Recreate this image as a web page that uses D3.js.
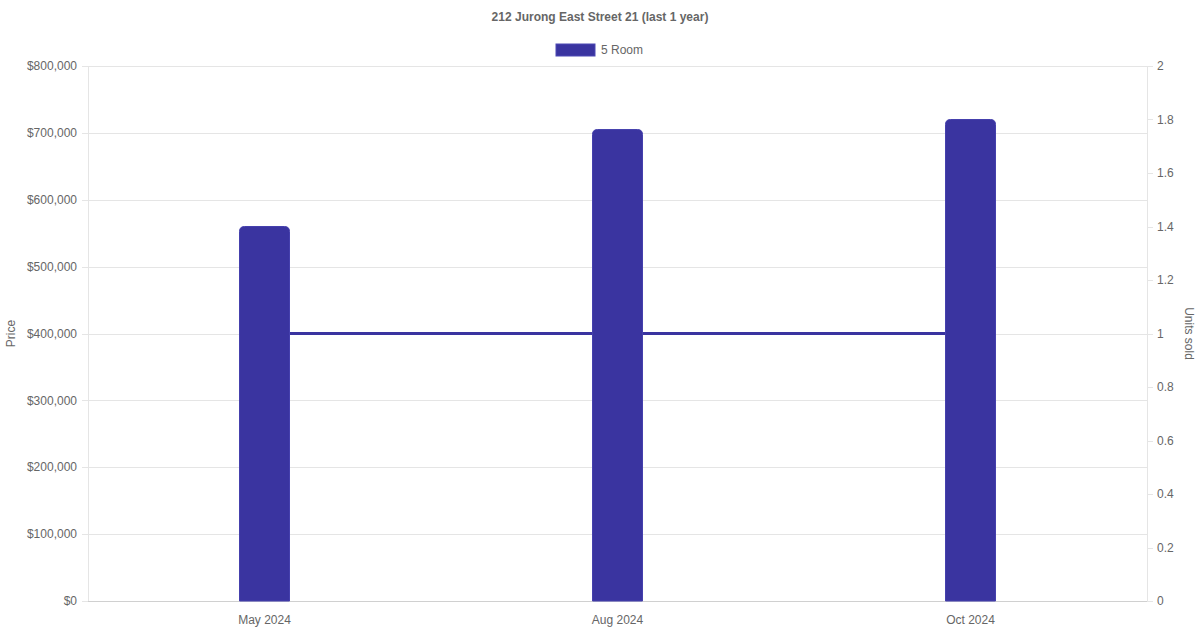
<!DOCTYPE html>
<html lang="en">
<head>
<meta charset="UTF-8">
<title>212 Jurong East Street 21</title>
<script src="https://d3js.org/d3.v7.min.js"></script>
<style>
    body { margin: 0; background: #fff; }
    text { font-family: "Liberation Sans", Arial, sans-serif; fill: #666; }
</style>
</head>
<body>
<div id="chart"></div>
<script>
// data
var months = ["May 2024", "Aug 2024", "Oct 2024"];
var prices = [560000, 705000, 720000];
var unitsSold = [1, 1, 1];
var priceTicks = [0, 100000, 200000, 300000, 400000, 500000, 600000, 700000, 800000];
var unitTicks = [0, 0.2, 0.4, 0.6, 0.8, 1, 1.2, 1.4, 1.6, 1.8, 2];

var width = 1200, height = 630;
var plotLeft = 88, plotRight = 1147, plotTop = 66, plotBottom = 601;
var barColor = "#3a34a0";
var gridColor = "#e5e5e5";

var svg = d3.select("#chart").append("svg")
    .attr("width", width)
    .attr("height", height);

var x = d3.scaleBand().domain(months).range([plotLeft, plotRight]);
var yPrice = d3.scaleLinear().domain([0, 800000]).range([plotBottom, plotTop]);
var yUnits = d3.scaleLinear().domain([0, 2]).range([plotBottom, plotTop]);

// grid lines
svg.append("g").selectAll("line")
    .data(priceTicks)
    .enter().append("line")
    .attr("x1", plotLeft - 6).attr("x2", plotRight)
    .attr("y1", d => Math.round(yPrice(d)) + 0.5)
    .attr("y2", d => Math.round(yPrice(d)) + 0.5)
    .attr("stroke", gridColor);

// right axis tick marks
svg.append("g").selectAll("line")
    .data(unitTicks)
    .enter().append("line")
    .attr("x1", plotRight).attr("x2", plotRight + 6)
    .attr("y1", d => Math.round(yUnits(d)) + 0.5)
    .attr("y2", d => Math.round(yUnits(d)) + 0.5)
    .attr("stroke", gridColor);

// axis lines
svg.append("line")
    .attr("x1", plotLeft + 0.5).attr("x2", plotLeft + 0.5)
    .attr("y1", plotTop).attr("y2", plotBottom)
    .attr("stroke", gridColor);
svg.append("line")
    .attr("x1", plotRight + 0.5).attr("x2", plotRight + 0.5)
    .attr("y1", plotTop).attr("y2", plotBottom)
    .attr("stroke", gridColor);
svg.append("line")
    .attr("x1", plotLeft).attr("x2", plotRight)
    .attr("y1", plotBottom + 0.5).attr("y2", plotBottom + 0.5)
    .attr("stroke", "#d0d0d0");

// left tick labels
svg.append("g").selectAll("text")
    .data(priceTicks)
    .enter().append("text")
    .attr("x", plotLeft - 11)
    .attr("y", d => yPrice(d))
    .attr("dy", "0.35em")
    .attr("text-anchor", "end")
    .style("font-size", "12px")
    .text(d => "$" + d3.format(",")(d));

// right tick labels
svg.append("g").selectAll("text")
    .data(unitTicks)
    .enter().append("text")
    .attr("x", plotRight + 10)
    .attr("y", d => yUnits(d))
    .attr("dy", "0.35em")
    .attr("text-anchor", "start")
    .style("font-size", "12px")
    .text(d => d3.format("~g")(d));

// x labels
svg.append("g").selectAll("text")
    .data(months)
    .enter().append("text")
    .attr("x", d => x(d) + x.bandwidth() / 2)
    .attr("y", 620)
    .attr("dy", "0.35em")
    .attr("text-anchor", "middle")
    .style("font-size", "12px")
    .text(d => d);

// axis titles
svg.append("text")
    .attr("transform", "translate(11," + ((plotTop + plotBottom) / 2) + ") rotate(-90)")
    .attr("text-anchor", "middle")
    .attr("dy", "0.35em")
    .style("font-size", "12px")
    .text("Price");
svg.append("text")
    .attr("transform", "translate(1189," + ((plotTop + plotBottom) / 2) + ") rotate(90)")
    .attr("text-anchor", "middle")
    .attr("dy", "0.35em")
    .style("font-size", "12px")
    .text("Units sold");

// title
svg.append("text")
    .attr("x", width / 2)
    .attr("y", 17)
    .attr("dy", "0.35em")
    .attr("text-anchor", "middle")
    .style("font-size", "12px")
    .style("font-weight", "bold")
    .text("212 Jurong East Street 21 (last 1 year)");

// legend
svg.append("rect")
    .attr("x", 556).attr("y", 44)
    .attr("width", 39).attr("height", 12)
    .attr("fill", barColor)
    .attr("stroke", "#4d48b4");
svg.append("text")
    .attr("x", 601).attr("y", 50)
    .attr("dy", "0.35em")
    .style("font-size", "12px")
    .text("5 Room");

// units sold line (behind bars)
var line = d3.line()
    .x((d, i) => x(months[i]) + x.bandwidth() / 2)
    .y(d => yUnits(d));
svg.append("path")
    .datum(unitsSold)
    .attr("d", line)
    .attr("fill", "none")
    .attr("stroke", barColor)
    .attr("stroke-width", 3);

// bars with rounded tops
var barW = 50, r = 5;
svg.append("g").selectAll("path")
    .data(prices)
    .enter().append("path")
    .attr("d", function (d, i) {
        var cx = x(months[i]) + x.bandwidth() / 2;
        var x0 = cx - barW / 2, x1 = cx + barW / 2;
        var y0 = yPrice(d), yb = yPrice(0);
        return "M" + x0 + "," + yb +
            "V" + (y0 + r) +
            "Q" + x0 + "," + y0 + " " + (x0 + r) + "," + y0 +
            "H" + (x1 - r) +
            "Q" + x1 + "," + y0 + " " + x1 + "," + (y0 + r) +
            "V" + yb + "Z";
    })
    .attr("fill", barColor)
    .attr("stroke", "#4540ad")
    .attr("stroke-width", 1);
</script>
</body>
</html>
